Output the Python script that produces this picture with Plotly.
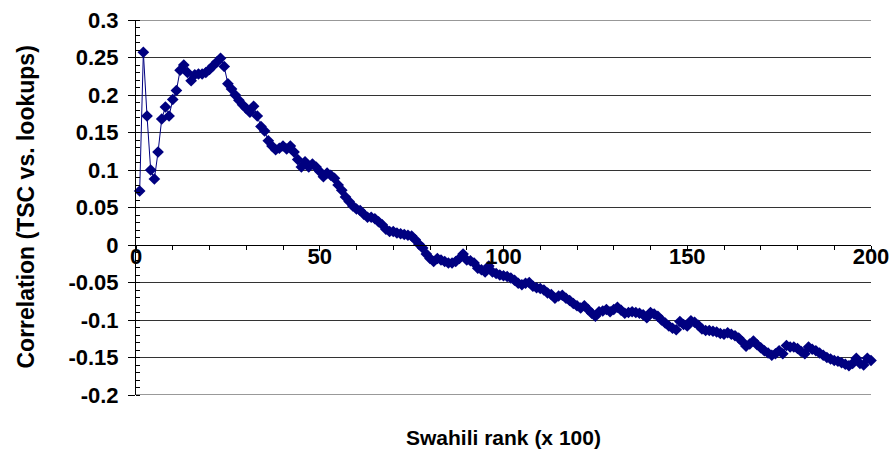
import plotly.graph_objects as go

# Data
rank_x100 = list(range(1, 201))
correlation = [
    0.072, 0.257, 0.172, 0.100, 0.088, 0.124, 0.168, 0.184, 0.172, 0.194,
    0.206, 0.233, 0.240, 0.230, 0.219, 0.227, 0.228, 0.228, 0.230, 0.234,
    0.239, 0.244, 0.249, 0.238, 0.215, 0.208, 0.200, 0.193, 0.187, 0.182,
    0.177, 0.185, 0.172, 0.158, 0.152, 0.139, 0.132, 0.127, 0.129, 0.132,
    0.128, 0.132, 0.124, 0.114, 0.104, 0.111, 0.104, 0.108, 0.104, 0.098,
    0.091, 0.096, 0.093, 0.089, 0.080, 0.073, 0.064, 0.058, 0.052, 0.048,
    0.046, 0.041, 0.037, 0.037, 0.035, 0.031, 0.027, 0.021, 0.018, 0.018,
    0.016, 0.015, 0.014, 0.013, 0.012, 0.007, 0.001, -0.004, -0.012, -0.018,
    -0.022, -0.018, -0.020, -0.022, -0.024, -0.024, -0.022, -0.018, -0.012, -0.020,
    -0.021, -0.024, -0.031, -0.033, -0.036, -0.028, -0.036, -0.038, -0.040, -0.041,
    -0.042, -0.044, -0.047, -0.051, -0.053, -0.051, -0.050, -0.055, -0.057, -0.058,
    -0.060, -0.064, -0.066, -0.071, -0.068, -0.067, -0.071, -0.074, -0.078, -0.081,
    -0.084, -0.081, -0.086, -0.091, -0.095, -0.089, -0.088, -0.086, -0.089, -0.086,
    -0.083, -0.087, -0.091, -0.090, -0.089, -0.090, -0.091, -0.093, -0.097, -0.090,
    -0.092, -0.095, -0.100, -0.104, -0.108, -0.111, -0.113, -0.102, -0.106, -0.108,
    -0.101, -0.103, -0.107, -0.112, -0.114, -0.114, -0.115, -0.116, -0.118, -0.119,
    -0.117, -0.119, -0.121, -0.124, -0.129, -0.135, -0.132, -0.128, -0.133, -0.137,
    -0.141, -0.144, -0.147, -0.145, -0.141, -0.145, -0.134, -0.136, -0.136, -0.138,
    -0.142, -0.145, -0.136, -0.139, -0.141, -0.144, -0.147, -0.150, -0.152, -0.154,
    -0.155, -0.157, -0.159, -0.161, -0.158, -0.151, -0.158, -0.160, -0.151, -0.154,
]

x_tickvals = [0, 50, 100, 150, 200]
x_ticktext = ["0", "50", "100", "150", "200"]
y_tickvals = [0.3, 0.25, 0.2, 0.15, 0.1, 0.05, 0, -0.05, -0.1, -0.15, -0.2]
y_ticktext = ["0.3", "0.25", "0.2", "0.15", "0.1", "0.05", "0", "-0.05", "-0.1", "-0.15", "-0.2"]

x_title = "Swahili rank (x 100)"
y_title = "Correlation (TSC vs. lookups)"

FONT = "Liberation Sans, Arial, sans-serif"
NAVY = "#000080"
GRID = "#333333"

fig = go.Figure()
fig.add_trace(go.Scatter(
    x=rank_x100, y=correlation,
    mode="lines+markers",
    line=dict(color=NAVY, width=1),
    marker=dict(symbol="diamond", size=9, color=NAVY),
    cliponaxis=False,
    showlegend=False,
))

# gridlines at the two range ends (plotly omits grid lines on the plot edges)
for yv in (y_tickvals[0], y_tickvals[-1]):
    fig.add_shape(type="line", xref="paper", yref="y", x0=0, x1=1, y0=yv, y1=yv,
                  line=dict(color=GRID, width=1), layer="below")

fig.update_layout(
    width=890, height=451, autosize=False,
    margin=dict(l=136, r=19, t=20, b=56, autoexpand=False),
    paper_bgcolor="white", plot_bgcolor="white",
    font=dict(family=FONT, color="black"),
    xaxis=dict(
        range=[0, 200], anchor="free", position=0.4, automargin=False,
        showline=True, linecolor="black", linewidth=1,
        showgrid=False, zeroline=False,
        tickmode="array", tickvals=x_tickvals, ticktext=x_ticktext,
        ticks="outside", ticklen=5, tickcolor="black",
        ticklabelstandoff=-13,
        tickfont=dict(family=FONT, size=22, weight="bold", color="black"),
        minor=dict(tick0=0, dtick=10, ticks="outside", ticklen=4, tickcolor="black", showgrid=False),
    ),
    yaxis=dict(
        range=[-0.2, 0.3], automargin=False,
        showline=True, linecolor="black", linewidth=1,
        showgrid=True, gridcolor=GRID, gridwidth=1, zeroline=False,
        tickmode="array", tickvals=y_tickvals, ticktext=y_ticktext,
        ticks="outside", ticklen=7, tickcolor="black",
        ticklabelstandoff=5,
        tickfont=dict(family=FONT, size=22, weight="bold", color="black"),
        minor=dict(tick0=0, dtick=0.01, ticks="inside", ticklen=4, tickcolor="black", showgrid=False),
    ),
    annotations=[
        dict(text=x_title, xref="paper", yref="paper", x=0.5, y=-0.112,
             xanchor="center", yanchor="middle", showarrow=False,
             font=dict(family=FONT, size=21, weight="bold", color="black")),
        dict(text=y_title, xref="paper", yref="paper", x=-0.151, y=0.5,
             xanchor="center", yanchor="middle", showarrow=False, textangle=-90,
             font=dict(family=FONT, size=23, weight="bold", color="black")),
    ],
)

fig.write_html(
    "out.html",
    config={"displayModeBar": False, "responsive": False},
    post_script="document.body.style.margin='0';document.body.style.overflow='hidden';",
)
